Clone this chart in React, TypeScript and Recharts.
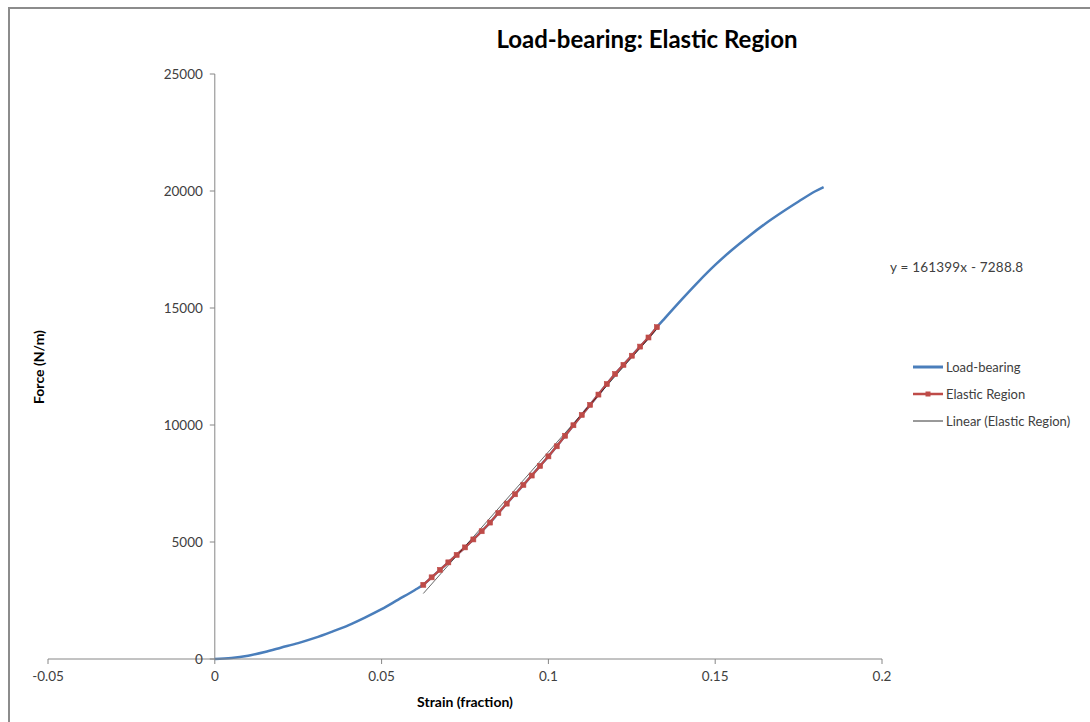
import React from 'react';
import { LineChart, Line, XAxis, YAxis, ReferenceLine, ReferenceDot } from 'recharts';

// strain (fraction) vs force (N/m)
const lowerStrain = [0, 0.005, 0.01, 0.015, 0.02, 0.025, 0.03, 0.035, 0.04, 0.045, 0.05, 0.055, 0.06];
const lowerForce = [0, 40, 140, 300, 490, 680, 900, 1160, 1440, 1770, 2130, 2540, 2950];

const elasticStrain = [
  0.0625, 0.065, 0.0675, 0.07, 0.0725, 0.075, 0.0775, 0.08, 0.0825, 0.085, 0.0875, 0.09, 0.0925, 0.095, 0.0975,
  0.1, 0.1025, 0.105, 0.1075, 0.11, 0.1125, 0.115, 0.1175, 0.12, 0.1225, 0.125, 0.1275, 0.13, 0.1325,
];
const elasticForce = [
  3170, 3490, 3810, 4130, 4450, 4770, 5110, 5460, 5830, 6240, 6640, 7040, 7440, 7840, 8250,
  8660, 9090, 9540, 9990, 10430, 10860, 11300, 11750, 12180, 12570, 12960, 13350, 13740, 14180,
];

const upperStrain = [0.135, 0.14, 0.145, 0.15, 0.155, 0.16, 0.165, 0.17, 0.175, 0.18, 0.1825];
const upperForce = [14580, 15370, 16130, 16840, 17480, 18060, 18600, 19090, 19550, 19990, 20170];

// linear trendline end points (y = 161399x - 7288.8)
const trendStrain = [0.0625, 0.1325];
const trendForce = [2799, 14097];

const xTicks = [-0.05, 0, 0.05, 0.1, 0.15, 0.2];
const yTicks = [0, 5000, 10000, 15000, 20000, 25000];

const seriesNames = ['Load-bearing', 'Elastic Region', 'Linear (Elastic Region)'];

const toRows = (xs: number[], ys: number[]) => xs.map((strain, i) => ({ strain, force: ys[i] }));

const loadData = [
  ...toRows(lowerStrain, lowerForce),
  ...toRows(elasticStrain, elasticForce),
  ...toRows(upperStrain, upperForce),
];
const elasticData = toRows(elasticStrain, elasticForce);
const trendData = toRows(trendStrain, trendForce);

const BLUE = '#4a7ebb';
const RED = '#be4b48';
const AXIS = '#868686';
const TEXT = '#404040';
const FONT = 'Lato, "Open Sans", sans-serif';

const SquareDot = (props: any) => {
  const { cx, cy, index } = props;
  if (cx == null || cy == null) return null;
  return <rect key={index} x={cx - 2.5} y={cy - 2.5} width={5} height={5} fill={RED} stroke={RED} strokeWidth={0.6} />;
};

const legendStyles = [
  { color: BLUE, width: 3, marker: false },
  { color: RED, width: 2.5, marker: true },
  { color: '#000', width: 0.8, marker: false },
];

function ChartLegend() {
  return (
    <div style={{ position: 'absolute', left: 913, top: 353, fontSize: 13, color: TEXT }}>
      {seriesNames.map((name, i) => (
        <div key={name} style={{ display: 'flex', alignItems: 'center', height: 27 }}>
          <svg width={31} height={10} style={{ marginRight: 2 }}>
            <line x1={0} x2={30} y1={5} y2={5} stroke={legendStyles[i].color} strokeWidth={legendStyles[i].width} />
            {legendStyles[i].marker && <rect x={12.5} y={2.5} width={5} height={5} fill={RED} />}
          </svg>
          <span>{name}</span>
        </div>
      ))}
    </div>
  );
}

export default function App() {
  return (
    <div
      style={{
        position: 'absolute',
        left: 0,
        top: 0,
        width: 1090,
        height: 722,
        background: '#fff',
        overflow: 'hidden',
        fontFamily: FONT,
      }}
    >
      <div
        style={{
          position: 'absolute',
          left: 8,
          top: 7,
          width: 1300,
          height: 900,
          borderLeft: '2px solid #8c8c8c',
          borderTop: '2px solid #8c8c8c',
        }}
      />
      <div
        style={{
          position: 'absolute',
          left: 447,
          width: 400,
          top: 24,
          textAlign: 'center',
          fontSize: 24,
          fontWeight: 700,
          color: '#000',
        }}
      >
        Load-bearing: Elastic Region
      </div>
      <div
        style={{
          position: 'absolute',
          left: 38,
          top: 367,
          transform: 'translate(-50%, -50%) rotate(-90deg)',
          whiteSpace: 'nowrap',
          fontSize: 14,
          fontWeight: 700,
          color: '#000',
        }}
      >
        Force (N/m)
      </div>
      <div
        style={{
          position: 'absolute',
          left: 890,
          top: 259,
          fontSize: 13.5,
          letterSpacing: 0.2,
          color: TEXT,
          whiteSpace: 'nowrap',
        }}
      >
        y = 161399x - 7288.8
      </div>
      <ChartLegend />
      <div style={{ position: 'absolute', left: 0, top: 0 }}>
        <LineChart width={1090} height={722} margin={{ top: 74, right: 208, bottom: 23, left: 48 }}>
          <XAxis
            dataKey="strain"
            type="number"
            domain={[-0.05, 0.2]}
            ticks={xTicks}
            allowDataOverflow
            height={40}
            axisLine={{ stroke: AXIS }}
            tickLine={{ stroke: AXIS }}
            tickSize={5}
            tickMargin={7}
            tick={{ fill: TEXT, fontSize: 13.5, fontFamily: FONT }}
            label={{
              value: 'Strain (fraction)',
              position: 'insideBottom',
              offset: -8,
              fill: '#000',
              fontSize: 14,
              fontWeight: 700,
              fontFamily: FONT,
            }}
          />
          <YAxis type="number" domain={[0, 25000]} ticks={yTicks} hide />
          <ReferenceLine x={0} stroke={AXIS} />
          {yTicks.map((t) => (
            <ReferenceLine
              key={`tick-${t}`}
              segment={[
                { x: -0.0015, y: t },
                { x: 0, y: t },
              ]}
              stroke={AXIS}
            />
          ))}
          {yTicks.map((t) => (
            <ReferenceDot
              key={`lbl-${t}`}
              x={0}
              y={t}
              r={0}
              fill="none"
              stroke="none"
              label={{ value: String(t), position: 'left', offset: 12, fill: TEXT, fontSize: 13.5, fontFamily: FONT }}
            />
          ))}
          <Line
            name={seriesNames[0]}
            data={loadData}
            dataKey="force"
            type="monotone"
            stroke={BLUE}
            strokeWidth={2.5}
            dot={false}
            isAnimationActive={false}
          />
          <Line
            name={seriesNames[1]}
            data={elasticData}
            dataKey="force"
            type="monotone"
            stroke={RED}
            strokeWidth={2.25}
            dot={<SquareDot />}
            isAnimationActive={false}
          />
          <Line
            name={seriesNames[2]}
            data={trendData}
            dataKey="force"
            type="linear"
            stroke="#000"
            strokeOpacity={0.75}
            strokeWidth={0.8}
            dot={false}
            isAnimationActive={false}
          />
        </LineChart>
      </div>
    </div>
  );
}
